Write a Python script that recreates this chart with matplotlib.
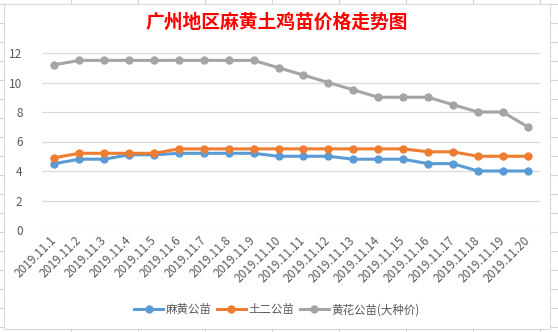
import numpy as np
import matplotlib.pyplot as plt
from matplotlib.lines import Line2D

plt.rcParams['font.family'] = ['Noto Sans CJK SC', 'DejaVu Sans']

# dates on the x axis
dates = ['2019.11.%d' % d for d in range(1, 21)]

# prices
mahuang = [4.5, 4.8, 4.8, 5.1, 5.1, 5.2, 5.2, 5.2, 5.2, 5.0,
           5.0, 5.0, 4.8, 4.8, 4.8, 4.5, 4.5, 4.0, 4.0, 4.0]
tuer = [4.9, 5.2, 5.2, 5.2, 5.2, 5.5, 5.5, 5.5, 5.5, 5.5,
        5.5, 5.5, 5.5, 5.5, 5.5, 5.3, 5.3, 5.0, 5.0, 5.0]
huanghua = [11.2, 11.5, 11.5, 11.5, 11.5, 11.5, 11.5, 11.5, 11.5, 11.0,
            10.5, 10.0, 9.5, 9.0, 9.0, 9.0, 8.5, 8.0, 8.0, 7.0]

series_names = ['麻黄公苗', '土二公苗', '黄花公苗(大种价)']
colors = ['#5B9BD5', '#ED7D31', '#A5A5A5']

fig = plt.figure(figsize=(5.58, 3.32), dpi=100)

# spreadsheet cell lines around the chart
for yy in np.arange(332 - 4, 0, -19):
    fig.add_artist(Line2D([0, 4 / 558], [yy / 332, yy / 332], color='#D4D4D4', lw=0.8))
    fig.add_artist(Line2D([550 / 558, 1], [yy / 332, yy / 332], color='#D4D4D4', lw=0.8))
for xx in [71, 138, 205, 272, 339, 406, 473, 540]:
    fig.add_artist(Line2D([xx / 558, xx / 558], [328 / 332, 1], color='#D4D4D4', lw=0.8))
    fig.add_artist(Line2D([xx / 558, xx / 558], [0, 3 / 332], color='#D4D4D4', lw=0.8))
# chart border
fig.add_artist(plt.Rectangle((4 / 558, 3 / 332), 546 / 558, 325 / 332, fill=False,
                             edgecolor='#D9D9D9', lw=0.8, transform=fig.transFigure))

ax = fig.add_axes([42 / 558, 1 - 230 / 332, 498 / 558, 177 / 332])
x = np.arange(len(dates))
for vals, name, c in zip([mahuang, tuer, huanghua], series_names, colors):
    ax.plot(x, vals, color=c, lw=2.2, marker='o', markersize=5, label=name, zorder=3)

ax.set_xlim(-0.5, len(dates) - 0.5)
ax.set_ylim(0, 12)
ax.set_yticks(range(0, 13, 2))
ax.set_xticks(x)
ax.set_xticklabels(dates, rotation=45, ha='right', va='center', rotation_mode='anchor')
ax.tick_params(axis='both', length=0, labelsize=8.5, colors='#595959')
ax.tick_params(axis='x', pad=6)
ax.tick_params(axis='y', pad=14)
ax.grid(axis='y', color='#D9D9D9', lw=0.9)
ax.set_axisbelow(True)
for s in ax.spines.values():
    s.set_visible(False)

fig.text(277 / 558, 1 - 22.5 / 332, '广州地区麻黄土鸡苗价格走势图', ha='center', va='center',
         color='#FF0000', fontsize=13.5, fontweight='bold')

fig.legend(loc='center', bbox_to_anchor=(277 / 558, 1 - 310 / 332), ncol=3, frameon=False,
           fontsize=8.3, handlelength=2.5, columnspacing=0.45, handletextpad=0.25,
           labelcolor='#595959')

fig.savefig('out.png', dpi=100)
